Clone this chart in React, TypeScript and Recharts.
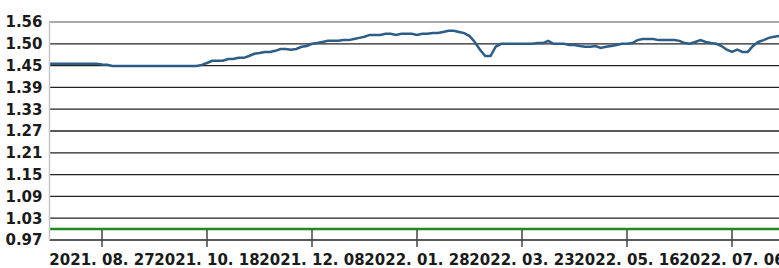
import { CartesianGrid, Line, LineChart, ReferenceLine, XAxis, YAxis } from 'recharts'

// one sample roughly every 3-4 trading days
const navValues = [
  1.447, 1.447, 1.447, 1.447, 1.447, 1.447, 1.447, 1.447, 1.447, 1.447,
  1.445, 1.444, 1.441, 1.441, 1.441, 1.441, 1.441, 1.441, 1.441, 1.441,
  1.441, 1.441, 1.441, 1.441, 1.441, 1.441, 1.441, 1.441, 1.441, 1.444,
  1.449, 1.455, 1.455, 1.455, 1.46, 1.46, 1.463, 1.463, 1.468, 1.474,
  1.476, 1.479, 1.479, 1.482, 1.487, 1.487, 1.485, 1.487, 1.493, 1.495,
  1.501, 1.503, 1.506, 1.509, 1.509, 1.509, 1.511, 1.511, 1.514, 1.517,
  1.52, 1.525, 1.525, 1.525, 1.528, 1.528, 1.525, 1.528, 1.528, 1.528,
  1.525, 1.528, 1.528, 1.53, 1.53, 1.533, 1.536, 1.536, 1.533, 1.53,
  1.522, 1.506, 1.485, 1.468, 1.468, 1.493, 1.501, 1.501, 1.501, 1.501,
  1.501, 1.501, 1.501, 1.503, 1.503, 1.509, 1.501, 1.501, 1.501, 1.498,
  1.498, 1.495, 1.493, 1.493, 1.495, 1.49, 1.493, 1.495, 1.498, 1.501,
  1.501, 1.503, 1.511, 1.514, 1.514, 1.514, 1.511, 1.511, 1.511, 1.511,
  1.509, 1.503, 1.501, 1.506, 1.511, 1.506, 1.503, 1.501, 1.495, 1.485,
  1.479, 1.485, 1.479, 1.479, 1.495, 1.506, 1.511, 1.517, 1.52, 1.522,
]

const baseline = 1.0

const dateTickIndex = [10, 30, 50, 70, 90, 110, 130]
const dateLabels = [
  '2021. 08. 27',
  '2021. 10. 18',
  '2021. 12. 08',
  '2022. 01. 28',
  '2022. 03. 23',
  '2022. 05. 16',
  '2022. 07. 06',
]

const yLabels = ['0.97', '1.03', '1.09', '1.15', '1.21', '1.27', '1.33', '1.39', '1.45', '1.50', '1.56']
const yMin = 0.97
const yMax = 1.56
const yTicks = yLabels.map((_, k) => yMin + (k * (yMax - yMin)) / (yLabels.length - 1))

const font = { fontFamily: '"DejaVu Sans", sans-serif', fontWeight: 700, fontSize: 15 }

function DateTick(props: any) {
  const { x, y, payload } = props
  const label = dateLabels[dateTickIndex.indexOf(payload.value)] ?? ''
  return (
    <g>
      <line x1={x} x2={x} y1={y - 10} y2={y + 7} stroke='#444' strokeWidth={1.5} />
      <text x={x} y={y + 25} textAnchor='middle' fill='#1a1a1a' style={font}>
        {label}
      </text>
    </g>
  )
}

export default function App() {
  const data = navValues.map((v, i) => ({ i, v }))

  return (
    <div style={{ position: 'absolute', left: 0, top: 0, width: 779, height: 268, overflow: 'hidden', background: '#fff' }}>
      <LineChart width={790} height={268} data={data} margin={{ top: 22, right: 10.75, left: 0, bottom: 0 }}>
        <CartesianGrid vertical={false} stroke='#222' strokeWidth={1.3} />
        <ReferenceLine y={yMax} stroke='#c4c4c4' strokeWidth={1.5} />
        <XAxis
          type='number'
          dataKey='i'
          domain={[0, navValues.length - 1]}
          ticks={dateTickIndex}
          interval={0}
          height={28}
          axisLine={false}
          tickLine={false}
          tickSize={0}
          tickMargin={0}
          tick={<DateTick />}
        />
        <YAxis
          domain={[yMin, yMax]}
          ticks={yTicks}
          interval={0}
          width={49.5}
          axisLine={{ stroke: '#c4c4c4', strokeWidth: 1.5 }}
          tickLine={false}
          tickSize={0}
          tickMargin={7}
          tickFormatter={(_, idx) => yLabels[idx]}
          tick={{ fill: '#1a1a1a', ...font }}
        />
        <ReferenceLine y={baseline} stroke='#1f8a1f' strokeWidth={2.5} />
        <Line
          type='linear'
          dataKey='v'
          stroke='#2c5d87'
          strokeWidth={2.5}
          dot={false}
          isAnimationActive={false}
        />
      </LineChart>
    </div>
  )
}
